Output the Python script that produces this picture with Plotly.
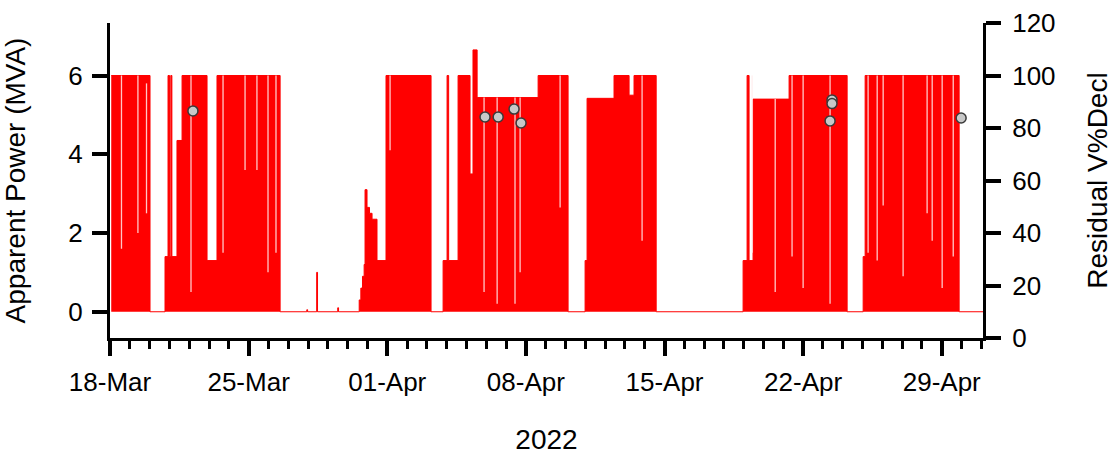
import plotly.graph_objects as go

# Apparent power envelope (MVA), step-wise (value holds until next time)
power_times = [
    "2022-03-18 01:30", "2022-03-20 00:30", "2022-03-20 18:40", "2022-03-20 22:20",
    "2022-03-21 00:10", "2022-03-21 01:40", "2022-03-21 03:00",
    "2022-03-21 04:20", "2022-03-21 09:10", "2022-03-21 15:20", "2022-03-22 21:36",
    "2022-03-23 09:40", "2022-03-26 14:10", "2022-03-27 22:30", "2022-03-27 23:30",
    "2022-03-28 10:30", "2022-03-28 11:30", "2022-03-29 12:00", "2022-03-29 13:00",
    "2022-03-30 12:40", "2022-03-30 14:00", "2022-03-30 16:00", "2022-03-30 18:00",
    "2022-03-30 20:00", "2022-03-30 21:05", "2022-03-30 23:30", "2022-03-31 02:30",
    "2022-03-31 05:35", "2022-03-31 11:35", "2022-03-31 22:30", "2022-04-03 05:05",
    "2022-04-03 19:40", "2022-04-04 00:30", "2022-04-04 02:25", "2022-04-04 13:50",
    "2022-04-05 04:20", "2022-04-05 07:55", "2022-04-05 12:55", "2022-04-08 14:50",
    "2022-04-10 03:10", "2022-04-10 23:45", "2022-04-11 02:10", "2022-04-12 10:50",
    "2022-04-13 05:05", "2022-04-13 11:05", "2022-04-14 13:55", "2022-04-18 23:15",
    "2022-04-19 04:05", "2022-04-19 06:30", "2022-04-19 11:20", "2022-04-21 07:00",
    "2022-04-24 05:20", "2022-04-25 00:45", "2022-04-25 03:10", "2022-04-29 21:05",
    "2022-05-01 02:00",
]
power_mva = [
    6.0, 0.0, 1.4, 6.0,
    1.4, 6.0, 1.4,
    1.4, 4.35, 6.0, 1.3,
    6.0, 0.0, 0.05, 0.0,
    1.0, 0.0, 0.1, 0.0,
    0.0, 0.3, 0.6, 0.9,
    1.2, 3.1, 2.65, 2.5,
    2.35, 1.3, 6.0, 0.0,
    1.3, 6.0, 1.3, 6.0,
    3.5, 6.65, 5.44, 6.0,
    0.0, 1.3, 5.42, 6.0,
    5.5, 6.0, 0.0, 1.3,
    6.0, 1.3, 5.4, 6.0,
    0.0, 1.4, 6.0, 0.0,
    0.0,
]

# Short drop-outs visible inside the dense power trace (time, from MVA, to MVA)
dropout_times = [
    "2022-03-18 13:55", "2022-03-19 09:50", "2022-03-19 20:15", "2022-03-22 02:10",
    "2022-03-23 17:00", "2022-03-24 19:40", "2022-03-25 10:05", "2022-03-25 23:30",
    "2022-03-26 09:10", "2022-04-01 03:25", "2022-04-05 21:20", "2022-04-06 13:10",
    "2022-04-07 10:50", "2022-04-07 17:00", "2022-04-09 17:30", "2022-04-13 20:50",
    "2022-04-19 10:10", "2022-04-20 14:10", "2022-04-21 10:35", "2022-04-22 00:00",
    "2022-04-23 08:40", "2022-04-25 06:45", "2022-04-25 17:45", "2022-04-26 01:00",
    "2022-04-27 01:10", "2022-04-28 06:15", "2022-04-28 12:25", "2022-04-29 00:30",
    "2022-04-29 13:55",
]
dropout_top = [
    6.0, 6.0, 5.8, 6.0,
    6.0, 6.0, 6.0, 6.0,
    6.0, 6.0, 5.44, 5.44,
    5.44, 5.44, 6.0, 6.0,
    6.0, 5.4, 6.0, 6.0,
    6.0, 6.0, 6.0, 6.0,
    6.0, 6.0, 6.0, 6.0,
    6.0,
]
dropout_bottom = [
    1.6, 2.0, 2.5, 0.5,
    1.5, 3.6, 3.6, 1.0,
    1.5, 4.1, 0.5, 0.2,
    0.2, 1.0, 2.65, 1.8,
    1.5, 0.5, 1.4, 0.6,
    0.2, 1.5, 1.3, 2.7,
    0.9, 2.5, 1.8, 0.6,
    1.4,
]

# Residual voltage decline (%) points
resid_times = [
    "2022-03-22 04:30", "2022-04-05 22:30", "2022-04-06 14:25", "2022-04-07 09:40",
    "2022-04-07 18:10", "2022-04-23 11:00", "2022-04-23 11:00", "2022-04-23 08:40",
    "2022-04-29 23:30",
]
resid_pct = [86.5, 84.2, 84.2, 87.2, 81.9, 90.7, 89.3, 82.7, 83.8]

x_range = ["2022-03-18 00:00", "2022-05-01 02:00"]
left_range = [-0.6667, 7.3333]
right_range = [0, 120]

FONT = "Liberation Sans, Arial, sans-serif"
DAY = 86400000

fig = go.Figure()
fig.add_trace(go.Scatter(
    x=power_times, y=power_mva, mode="lines",
    line=dict(color="#FF0000", width=1, shape="hv"),
    fill="tozeroy", fillcolor="#FF0000", yaxis="y", hoverinfo="skip",
))

dx, dy = [], []
for t, a, b in zip(dropout_times, dropout_top, dropout_bottom):
    dx += [t, t, None]
    dy += [a, b, None]
fig.add_trace(go.Scatter(
    x=dx, y=dy, mode="lines", line=dict(color="rgba(255,235,235,0.85)", width=1.3),
    yaxis="y", hoverinfo="skip",
))

fig.add_trace(go.Scatter(
    x=resid_times, y=resid_pct, mode="markers",
    marker=dict(size=10, color="#C8C8C8", line=dict(color="#3A3A3A", width=1.5)),
    yaxis="y2",
))

axis_common = dict(
    showgrid=False, zeroline=False, showline=True, linewidth=3, linecolor="black",
    ticks="outside", tickcolor="black", tickwidth=4, ticklen=15,
    tickfont=dict(family=FONT, size=26, color="black"),
)

fig.update_layout(
    width=1113, height=455,
    margin=dict(l=110, r=130, t=23, b=117, autoexpand=False),
    paper_bgcolor="white", plot_bgcolor="white",
    showlegend=False,
    font=dict(family=FONT, color="black"),
    xaxis=dict(
        type="date", range=x_range, tick0="2022-03-18", dtick=7 * DAY,
        tickformat="%d-%b", ticklabelstandoff=4,
        minor=dict(dtick=DAY, tick0="2022-03-18", ticks="outside", ticklen=8,
                   tickwidth=3, tickcolor="black"),
        title=dict(text="2022", font=dict(family=FONT, size=28), standoff=36),
        **axis_common,
    ),
    yaxis=dict(
        range=left_range, tick0=0, dtick=2, ticklabelstandoff=4,
        title=dict(text="Apparent Power (MVA)", font=dict(family=FONT, size=28), standoff=50),
        **axis_common,
    ),
    yaxis2=dict(
        range=right_range, tick0=0, dtick=20, overlaying="y", side="right",
        ticklabelstandoff=6,
        title=dict(text="Residual V%Decl", font=dict(family=FONT, size=28), standoff=40),
        **axis_common,
    ),
)

fig.write_html(
    "out.html",
    config={"displayModeBar": False},
    post_script="document.body.style.margin='0';document.body.style.overflow='hidden';",
)
